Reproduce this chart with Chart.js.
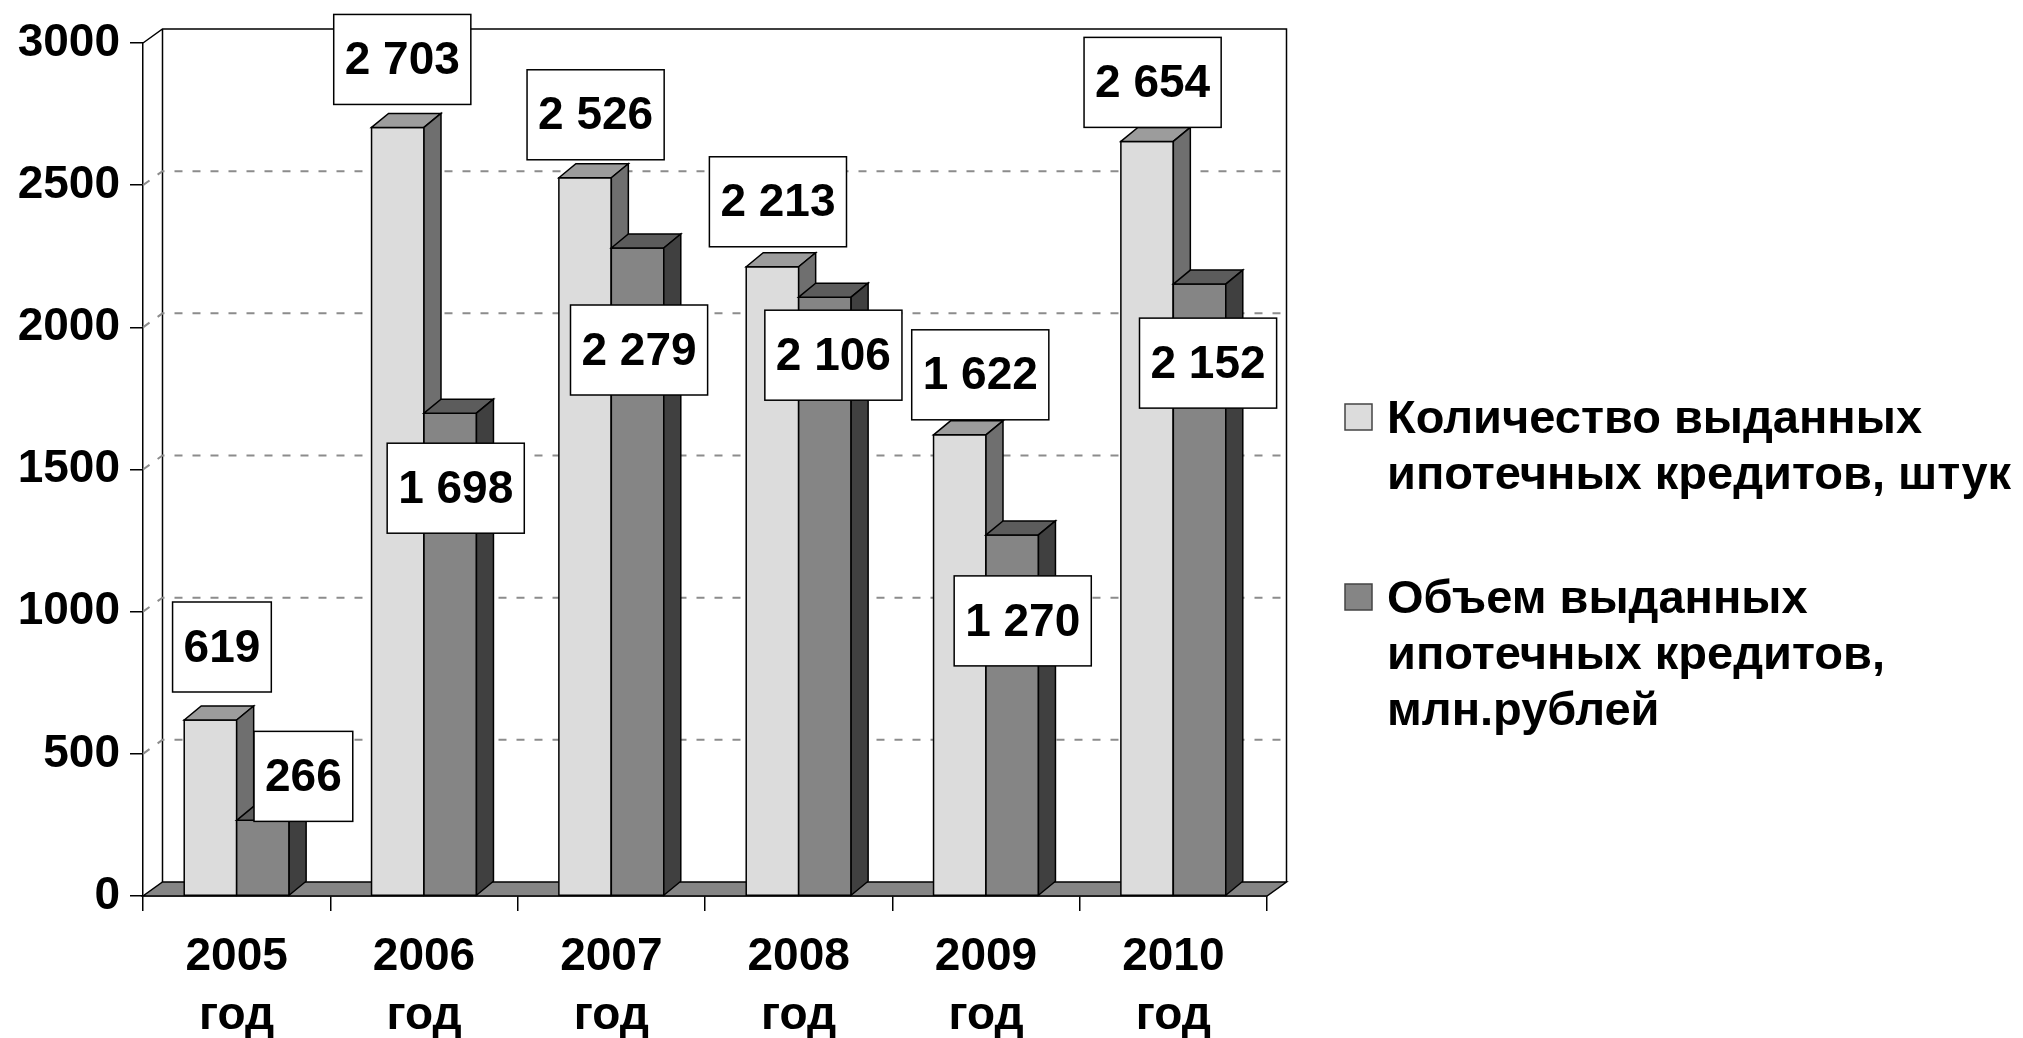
<!DOCTYPE html>
<html lang="ru">
<head>
<meta charset="utf-8">
<title>Ипотечные кредиты 2005–2010</title>
<script src="https://cdn.jsdelivr.net/npm/chart.js@4.4.1/dist/chart.umd.min.js"></script>
<style>
  html, body { margin: 0; padding: 0; background: #fff; }
  #wrap { width: 2023px; height: 1038px; }
</style>
</head>
<body>
<div id="wrap"><canvas id="mortgage-chart" width="2023" height="1038"></canvas></div>
<script>
const years = [["2005", "год"], ["2006", "год"], ["2007", "год"], ["2008", "год"], ["2009", "год"], ["2010", "год"]];
const loanCount = [619, 2703, 2526, 2213, 1622, 2654];
const loanVolume = [266, 1698, 2279, 2106, 1270, 2152];
const yTicks = [0, 500, 1000, 1500, 2000, 2500, 3000];
const countName = ["Количество выданных", "ипотечных кредитов, штук"];
const volumeName = ["Объем выданных", "ипотечных кредитов,", "млн.рублей"];

const FONT = "'Liberation Sans', Arial, sans-serif";
const BAR_DX = 17, BAR_DY = -14;
const WALL_DX = 19.5, WALL_DY = -14;

// faces: front, top, side
const faces = [
  ["#dcdcdc", "#9c9c9c", "#6f6f6f"],
  ["#858585", "#5c5c5c", "#404040"],
];

// where Excel put each data label, relative to the bar top (px)
const labelPlacement = [
  { lift: [73, 68, 63, 65, 60, 59], shift: [3, -4, 2, -3, 12, -3] },
  { lift: [44, -75, -102, -58, -86, -79], shift: [32, -3, -7, 0, 2, 0] },
];

function formatValue(v) {
  return String(v).replace(/\B(?=(\d{3})+(?!\d))/g, " ");
}

function polygon(ctx, pts, fill) {
  ctx.beginPath();
  ctx.moveTo(pts[0][0], pts[0][1]);
  for (let i = 1; i < pts.length; i++) ctx.lineTo(pts[i][0], pts[i][1]);
  ctx.closePath();
  ctx.fillStyle = fill;
  ctx.fill();
  ctx.stroke();
}

function drawBox(ctx, bar, colors) {
  const { x, y, base, width } = bar.getProps(["x", "y", "base", "width"], true);
  const l = x - width / 2;
  const r = x + width / 2;
  polygon(ctx, [[l, y], [r, y], [r, base], [l, base]], colors[0]);
  polygon(ctx, [[l, y], [l + BAR_DX, y + BAR_DY], [r + BAR_DX, y + BAR_DY], [r, y]], colors[1]);
  polygon(ctx, [[r, y], [r + BAR_DX, y + BAR_DY], [r + BAR_DX, base + BAR_DY], [r, base]], colors[2]);
}

const room3d = {
  id: "room3d",
  beforeDatasetsDraw(chart) {
    const { ctx, chartArea } = chart;
    const { left, right, top, bottom } = chartArea;
    const yScale = chart.scales.y;
    ctx.save();
    ctx.strokeStyle = "#000";
    ctx.lineWidth = 1.5;
    ctx.lineJoin = "miter";

    // back wall and left wall
    ctx.beginPath();
    ctx.moveTo(left, top);
    ctx.lineTo(left + WALL_DX, top + WALL_DY);
    ctx.lineTo(right + WALL_DX, top + WALL_DY);
    ctx.lineTo(right + WALL_DX, bottom + WALL_DY);
    ctx.moveTo(left + WALL_DX, top + WALL_DY);
    ctx.lineTo(left + WALL_DX, bottom + WALL_DY);
    ctx.stroke();

    // dashed gridlines on the walls
    ctx.save();
    ctx.strokeStyle = "#8c8c8c";
    ctx.lineWidth = 2;
    ctx.setLineDash([8, 10]);
    yTicks.filter((v) => v > 0 && v < 3000).forEach((v) => {
      const py = yScale.getPixelForValue(v);
      ctx.beginPath();
      ctx.moveTo(left, py);
      ctx.lineTo(left + WALL_DX, py + WALL_DY);
      ctx.lineTo(right + WALL_DX, py + WALL_DY);
      ctx.stroke();
    });
    ctx.restore();

    // floor
    polygon(ctx, [[left, bottom], [right, bottom], [right + WALL_DX, bottom + WALL_DY], [left + WALL_DX, bottom + WALL_DY]], "#858585");
    ctx.restore();
  },
  afterDatasetsDraw(chart) {
    const { ctx } = chart;
    ctx.save();
    ctx.strokeStyle = "#000";
    ctx.lineWidth = 1.5;
    ctx.lineJoin = "miter";
    const metas = chart.data.datasets.map((_, d) => chart.getDatasetMeta(d));
    years.forEach((_, i) => {
      metas.forEach((meta, d) => drawBox(ctx, meta.data[i], faces[d]));
    });
    ctx.restore();
  },
  afterDraw(chart) {
    const { ctx } = chart;
    ctx.save();

    // data labels in white boxes
    ctx.font = `bold 46px ${FONT}`;
    ctx.textAlign = "center";
    ctx.textBaseline = "middle";
    ctx.lineWidth = 1.5;
    chart.data.datasets.forEach((ds, d) => {
      const meta = chart.getDatasetMeta(d);
      ds.data.forEach((v, i) => {
        const bar = meta.data[i];
        const cx = bar.x + BAR_DX / 2 + labelPlacement[d].shift[i];
        const cy = bar.y - labelPlacement[d].lift[i];
        const text = formatValue(v);
        const w = ctx.measureText(text).width + 22;
        const h = 90;
        ctx.fillStyle = "#fff";
        ctx.strokeStyle = "#000";
        ctx.fillRect(cx - w / 2, cy - h / 2, w, h);
        ctx.strokeRect(cx - w / 2, cy - h / 2, w, h);
        ctx.fillStyle = "#000";
        ctx.fillText(text, cx, cy + 2);
      });
    });

    // legend
    const lx = 1345, tx = 1387, lineH = 56, entryGap = 68;
    let baseline = 433;
    ctx.textAlign = "left";
    ctx.textBaseline = "alphabetic";
    ctx.font = `bold 47px ${FONT}`;
    [countName, volumeName].forEach((lines, d) => {
      ctx.fillStyle = faces[d][0];
      ctx.strokeStyle = "#444";
      ctx.lineWidth = 1.5;
      ctx.fillRect(lx, baseline - 29, 27, 26);
      ctx.strokeRect(lx, baseline - 29, 27, 26);
      ctx.fillStyle = "#000";
      lines.forEach((line, k) => ctx.fillText(line, tx, baseline + k * lineH));
      baseline += lines.length * lineH + entryGap;
    });
    ctx.restore();
  },
};

const tickFont = { family: FONT, size: 46, weight: "bold" };

new Chart(document.getElementById("mortgage-chart"), {
  type: "bar",
  data: {
    labels: years,
    datasets: [
      { label: countName.join(" "), data: loanCount, backgroundColor: faces[0][0], borderWidth: 0 },
      { label: volumeName.join(" "), data: loanVolume, backgroundColor: faces[1][0], borderWidth: 0 },
    ],
  },
  options: {
    responsive: false,
    animation: false,
    categoryPercentage: 0.56,
    barPercentage: 1,
    layout: { padding: { top: 43, right: 756, bottom: 0, left: 0 } },
    plugins: { legend: { display: false }, tooltip: { enabled: false } },
    scales: {
      x: {
        ticks: { font: { ...tickFont, lineHeight: 1.3 }, color: "#000", padding: 16, maxRotation: 0 },
        grid: { drawOnChartArea: false, tickLength: 15, color: "#000", lineWidth: 1.5, offset: true },
        border: { color: "#000", width: 1.5 },
        afterFit: (scale) => { scale.height = 142; },
      },
      y: {
        min: 0,
        max: 3000,
        afterBuildTicks: (scale) => { scale.ticks = yTicks.map((value) => ({ value })); },
        ticks: { font: tickFont, color: "#000", padding: 10, callback: (value) => String(value) },
        grid: { drawOnChartArea: false, tickLength: 13, color: "#000", lineWidth: 1.5 },
        border: { color: "#000", width: 1.5 },
        afterFit: (scale) => { scale.width = 143; },
      },
    },
  },
  plugins: [room3d],
});
</script>
</body>
</html>
